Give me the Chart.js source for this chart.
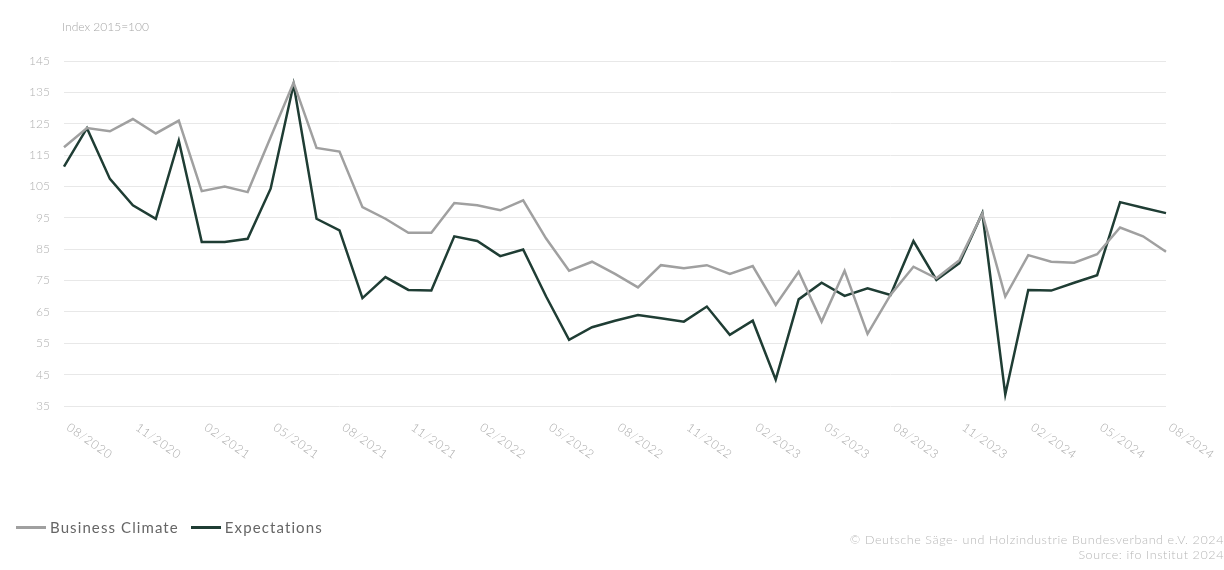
<!DOCTYPE html>
<html>
<head>
<meta charset="utf-8">
<script src="https://cdn.jsdelivr.net/npm/chart.js@4"></script>
<style>
  html, body { margin: 0; padding: 0; background: #fff; }
  #wrap { position: relative; width: 1224px; height: 570px; font-family: Lato, 'Open Sans', sans-serif; }
  #unit { position: absolute; left: 62px; top: 19px; font-size: 12px; color: #a8a8a8; font-weight: 300; }
  #legend { position: absolute; left: 16px; top: 518px; font-size: 15px; color: #666; display: flex; align-items: center; letter-spacing: 1.1px; }
  #legend .sw { display: inline-block; width: 30px; height: 3px; margin-right: 4px; }
  #legend .item { display: flex; align-items: center; margin-right: 12px; }
  #source { position: absolute; right: 0; top: 532px; font-size: 12.5px; color: #b8b8b8; text-align: right; line-height: 15px; font-weight: 300; letter-spacing: 0.6px; }
</style>
</head>
<body>
<div id="wrap">
  <canvas id="iboChart" width="1224" height="570"></canvas>
  <div id="unit">Index 2015=100</div>
  <div id="legend">
    <span class="item"><span class="sw" style="background:#a0a0a0"></span>Business Climate</span>
    <span class="item"><span class="sw" style="background:#1f3d34"></span>Expectations</span>
  </div>
  <div id="source">© Deutsche Säge- und Holzindustrie Bundesverband e.V. 2024<br>Source: ifo Institut 2024</div>
</div>
<script>
// Monthly values 08/2020 .. 08/2024
const months = [
  '08/2020','09/2020','10/2020','11/2020','12/2020','01/2021','02/2021','03/2021','04/2021','05/2021',
  '06/2021','07/2021','08/2021','09/2021','10/2021','11/2021','12/2021','01/2022','02/2022','03/2022',
  '04/2022','05/2022','06/2022','07/2022','08/2022','09/2022','10/2022','11/2022','12/2022','01/2023',
  '02/2023','03/2023','04/2023','05/2023','06/2023','07/2023','08/2023','09/2023','10/2023','11/2023',
  '12/2023','01/2024','02/2024','03/2024','04/2024','05/2024','06/2024','07/2024','08/2024'
];
const businessClimate = [
  117.5, 123.6, 122.6, 126.5, 121.9, 126.0, 103.5, 105.0, 103.2, 120.7,
  138.1, 117.3, 116.1, 98.4, 94.7, 90.2, 90.2, 99.7, 99.0, 97.4,
  100.6, 88.4, 78.1, 81.0, 77.1, 72.8, 79.9, 78.9, 79.9, 77.1,
  79.6, 67.2, 77.8, 61.9, 78.1, 58.0, 70.4, 79.4, 75.7, 81.5,
  96.3, 69.9, 83.1, 81.0, 80.7, 83.4, 91.9, 89.1, 84.2
];
const expectations = [
  111.3, 123.6, 107.4, 99.0, 94.7, 119.6, 87.3, 87.3, 88.3, 104.3,
  137.6, 94.7, 91.0, 69.4, 76.1, 72.0, 71.8, 89.1, 87.6, 82.8,
  84.9, 69.9, 56.1, 60.1, 62.2, 64.0, 63.0, 61.9, 66.7, 57.7,
  62.2, 43.4, 69.0, 74.3, 70.1, 72.5, 70.4, 87.6, 75.2, 80.5,
  96.5, 38.7, 72.0, 71.8, 74.3, 76.7, 100.0, 98.2, 96.5
];
// every third month is labelled
const tickMonths = [
  '08/2020','11/2020','02/2021','05/2021','08/2021','11/2021','02/2022','05/2022','08/2022',
  '11/2022','02/2023','05/2023','08/2023','11/2023','02/2024','05/2024','08/2024'
];

// x labels run top-left to bottom-right starting at their tick
const slantLabels = {
  id: 'slantLabels',
  afterDraw(chart) {
    const x = chart.scales.x;
    const ctx = chart.ctx;
    ctx.save();
    ctx.font = '300 12px Lato, sans-serif';
    ctx.letterSpacing = '0.8px';
    ctx.fillStyle = '#a8a8a8';
    ctx.textAlign = 'left';
    ctx.textBaseline = 'middle';
    tickMonths.forEach(m => {
      const px = x.getPixelForValue(months.indexOf(m));
      ctx.save();
      ctx.translate(px + 4, chart.chartArea.bottom + 20);
      ctx.rotate(Math.PI * 35 / 180);
      ctx.fillText(m, 0, 0);
      ctx.restore();
    });
    ctx.restore();
  }
};

new Chart(document.getElementById('iboChart'), {
  type: 'line',
  data: {
    labels: months,
    datasets: [
      {
        label: 'Business Climate',
        data: businessClimate,
        borderColor: '#a0a0a0',
        borderWidth: 2.5,
        pointRadius: 0,
        tension: 0
      },
      {
        label: 'Expectations',
        data: expectations,
        borderColor: '#1f3d34',
        borderWidth: 2.5,
        pointRadius: 0,
        tension: 0
      }
    ]
  },
  options: {
    responsive: false,
    animation: false,
    layout: { padding: { left: 0, right: 58, top: 61, bottom: 164 } },
    plugins: {
      legend: { display: false },
      tooltip: { enabled: false }
    },
    scales: {
      x: {
        grid: { display: false },
        border: { display: false },
        ticks: { display: false },
        afterFit: s => { s.height = 0; }
      },
      y: {
        min: 35,
        max: 145,
        afterFit: s => { s.width = 64; },
        grid: { color: '#e8e8e8', lineWidth: 1, drawTicks: false },
        border: { display: false },
        ticks: {
          stepSize: 10,
          padding: 14,
          color: '#b0b0b0',
          font: { family: 'Lato, sans-serif', size: 12, weight: '300' }
        }
      }
    }
  },
  plugins: [slantLabels]
});
</script>
</body>
</html>
